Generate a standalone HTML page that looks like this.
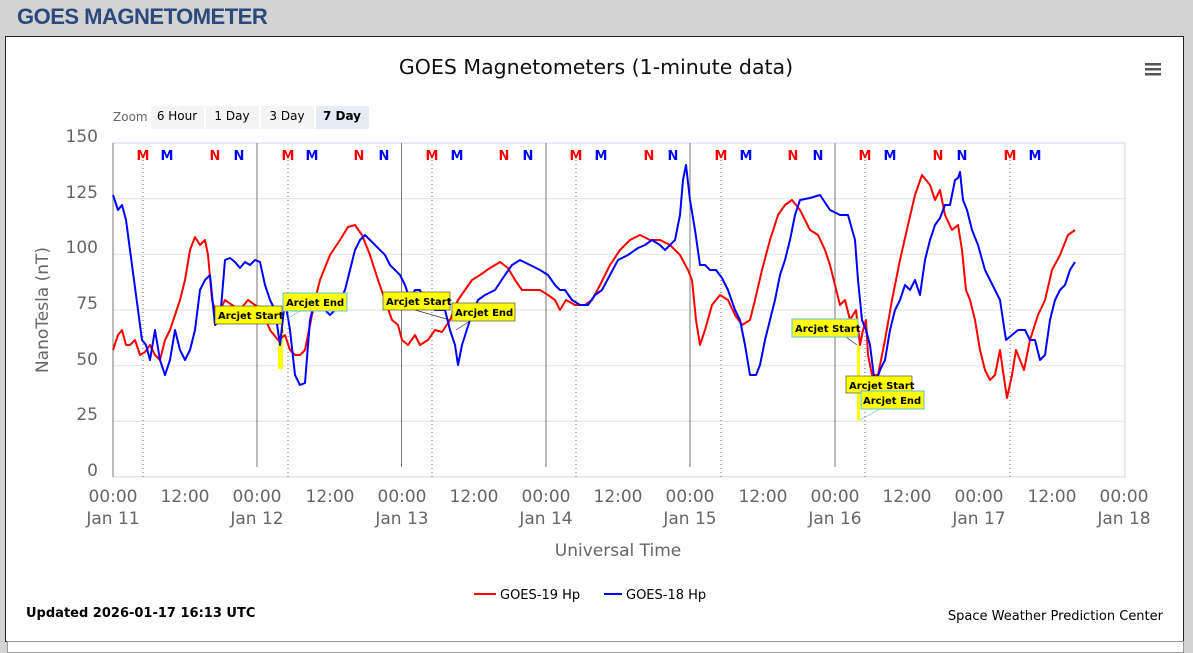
<!DOCTYPE html>
<html><head><meta charset="utf-8"><style>
body{margin:0;width:1193px;height:647px;background:#d3d3d3;overflow:hidden;font-family:"DejaVu Sans","Liberation Sans",sans-serif}
.h{position:absolute;left:17px;top:4px;font:bold 22px "Liberation Sans",sans-serif;color:#2a4a7e;letter-spacing:-0.5px}
.box{position:absolute;left:5px;top:36px;width:1177px;height:604px;background:#fff;border:1px solid #222}
.bot{position:absolute;left:7px;top:641px;width:1175px;height:10px;background:#fff;border:1px solid #999}
</style></head><body>
<div class="h">GOES MAGNETOMETER</div>
<div class="box"></div><div class="bot"></div>
<svg width="1193" height="647" style="position:absolute;left:0;top:0" font-family="DejaVu Sans, Liberation Sans, sans-serif">
<text x="596" y="74" text-anchor="middle" font-size="20.5" fill="#111">GOES Magnetometers (1-minute data)</text>
<g fill="#555"><rect x="1145" y="63" width="16" height="2.5"/><rect x="1145" y="68" width="16" height="2.5"/><rect x="1145" y="73" width="16" height="2.5"/></g>
<text x="113" y="121" font-size="12" fill="#666">Zoom</text>
<rect x="151" y="106" width="53" height="23" fill="#f4f4f4"/><text x="177" y="120" text-anchor="middle" font-size="12">6 Hour</text>
<rect x="206" y="106" width="53" height="23" fill="#f4f4f4"/><text x="232" y="120" text-anchor="middle" font-size="12">1 Day</text>
<rect x="261" y="106" width="53" height="23" fill="#f4f4f4"/><text x="287" y="120" text-anchor="middle" font-size="12">3 Day</text>
<rect x="316" y="106" width="53" height="23" fill="#e6ebf5"/><text x="342" y="120" text-anchor="middle" font-size="12" font-weight="bold">7 Day</text>
<g stroke="#e0e0e0"><line x1="113" x2="1125" y1="421.3" y2="421.3"/><line x1="113" x2="1125" y1="365.7" y2="365.7"/><line x1="113" x2="1125" y1="310" y2="310"/><line x1="113" x2="1125" y1="254.3" y2="254.3"/><line x1="113" x2="1125" y1="198.7" y2="198.7"/></g>
<rect x="113" y="143" width="1012" height="334" fill="none" stroke="#ccd6eb"/>
<g font-size="17" fill="#666" text-anchor="end"><text x="98" y="142">150</text><text x="98" y="198">125</text><text x="98" y="253">100</text><text x="98" y="309">75</text><text x="98" y="365">50</text><text x="98" y="420">25</text><text x="98" y="476">0</text></g>
<text transform="translate(48,310) rotate(-90)" text-anchor="middle" font-size="17" fill="#666">NanoTesla (nT)</text>
<g stroke="#777"><line x1="257" x2="257" y1="143" y2="467"/><line x1="401.5" x2="401.5" y1="143" y2="467"/><line x1="546" x2="546" y1="143" y2="467"/><line x1="690" x2="690" y1="143" y2="467"/><line x1="835" x2="835" y1="143" y2="467"/><line x1="113" x2="113" y1="143" y2="477"/></g>
<g stroke="#666" stroke-dasharray="1,3"><line x1="143" x2="143" y1="160" y2="477"/><line x1="288" x2="288" y1="160" y2="477"/><line x1="432" x2="432" y1="160" y2="477"/><line x1="576" x2="576" y1="160" y2="477"/><line x1="721" x2="721" y1="160" y2="477"/><line x1="865" x2="865" y1="160" y2="477"/><line x1="1010" x2="1010" y1="160" y2="477"/></g>
<g font-size="13" font-weight="bold" text-anchor="middle">
<g fill="#f00"><text x="143" y="160">M</text><text x="215" y="160">N</text><text x="288" y="160">M</text><text x="359" y="160">N</text><text x="432" y="160">M</text><text x="504" y="160">N</text><text x="576" y="160">M</text><text x="649" y="160">N</text><text x="721" y="160">M</text><text x="793" y="160">N</text><text x="865" y="160">M</text><text x="938" y="160">N</text><text x="1010" y="160">M</text></g>
<g fill="#00f"><text x="167" y="160">M</text><text x="239" y="160">N</text><text x="312" y="160">M</text><text x="384" y="160">N</text><text x="457" y="160">M</text><text x="528" y="160">N</text><text x="601" y="160">M</text><text x="673" y="160">N</text><text x="746" y="160">M</text><text x="818" y="160">N</text><text x="890" y="160">M</text><text x="962" y="160">N</text><text x="1035" y="160">M</text></g></g>
<g font-size="17" fill="#666" text-anchor="middle">
<text x="113" y="502">00:00</text><text x="113" y="524">Jan 11</text><text x="185" y="502">12:00</text>
<text x="257" y="502">00:00</text><text x="257" y="524">Jan 12</text><text x="330" y="502">12:00</text>
<text x="402" y="502">00:00</text><text x="402" y="524">Jan 13</text><text x="474" y="502">12:00</text>
<text x="546" y="502">00:00</text><text x="546" y="524">Jan 14</text><text x="618" y="502">12:00</text>
<text x="690" y="502">00:00</text><text x="690" y="524">Jan 15</text><text x="763" y="502">12:00</text>
<text x="835" y="502">00:00</text><text x="835" y="524">Jan 16</text><text x="907" y="502">12:00</text>
<text x="979" y="502">00:00</text><text x="979" y="524">Jan 17</text><text x="1052" y="502">12:00</text>
<text x="1124" y="502">00:00</text><text x="1124" y="524">Jan 18</text>
<text x="618" y="556">Universal Time</text></g>
<g fill="#ff0"><rect x="278" y="333" width="5" height="36"/><rect x="857" y="345" width="3" height="75"/></g>
<polyline fill="none" stroke="#f00" stroke-width="2" stroke-linejoin="round" points="113,350 118,335 122,330 126,345 130,345 135,340 140,355 145,352 150,345 155,355 160,360 165,340 170,330 175,315 180,300 185,280 190,250 195,237 200,245 205,240 208,255 212,300 215,310 220,310 225,300 232,305 240,310 248,300 255,305 262,310 270,330 278,340 285,335 290,350 295,355 300,355 305,350 310,325 315,300 320,280 330,255 340,240 348,227 355,225 362,235 370,255 378,280 385,300 392,320 398,325 402,340 408,345 415,335 420,345 428,340 435,330 442,332 450,320 458,300 465,290 472,280 480,275 490,268 500,262 508,268 515,280 522,290 530,290 540,290 548,295 555,300 560,310 566,300 575,305 585,305 592,300 600,285 610,265 620,250 630,240 640,235 650,240 660,240 670,245 680,255 688,270 692,280 696,320 700,345 705,330 712,305 720,295 728,300 735,315 742,325 750,320 755,300 762,270 770,240 778,215 785,205 792,200 800,210 810,230 818,235 825,250 830,265 835,285 840,305 845,300 850,320 856,310 860,345 863,330 866,320 868,355 872,375 878,375 885,340 892,300 900,260 908,225 915,195 922,175 930,185 935,200 940,190 945,215 952,230 958,225 962,250 966,290 970,300 975,320 980,350 985,370 990,380 995,375 1000,350 1004,378 1007,398 1012,375 1016,350 1020,360 1024,370 1030,340 1038,315 1045,300 1052,270 1060,255 1068,235 1075,230"/>
<polyline fill="none" stroke="#00f" stroke-width="2" stroke-linejoin="round" points="113,195 118,210 122,205 126,220 130,250 134,280 138,310 142,340 146,345 150,360 155,330 160,360 165,375 170,360 175,330 180,350 185,360 190,350 195,330 200,290 205,280 210,275 215,325 220,320 225,260 230,258 235,262 240,268 245,262 250,265 255,260 260,262 265,285 270,300 275,310 280,345 285,300 290,330 295,375 300,385 305,383 310,320 315,300 320,305 325,310 330,315 335,310 340,300 345,290 350,270 355,250 360,240 365,235 370,240 375,245 380,250 385,255 390,265 395,270 400,275 405,285 410,300 415,290 420,290 425,305 430,305 435,310 440,310 445,310 450,330 455,345 458,365 462,345 470,320 478,300 485,295 495,290 505,275 512,265 520,260 530,265 540,270 548,275 555,285 560,290 565,290 572,300 580,305 588,305 595,295 602,290 610,275 618,260 628,255 638,248 645,245 652,240 660,245 665,250 670,245 675,240 680,215 683,180 686,165 690,200 695,230 700,265 705,265 710,270 716,270 722,278 728,290 735,310 740,320 745,345 750,375 756,375 760,365 765,340 770,320 775,300 780,275 785,260 790,240 795,215 800,200 810,198 820,195 830,210 840,215 848,215 855,240 858,280 862,320 866,330 870,345 875,385 880,370 885,360 890,330 895,310 900,300 905,285 910,290 915,280 920,295 925,260 930,240 935,225 940,218 945,205 950,205 955,180 958,178 960,172 963,200 967,210 972,230 978,245 985,270 990,280 995,290 1000,300 1006,340 1012,335 1018,330 1025,330 1030,340 1035,340 1040,360 1045,355 1050,320 1055,300 1060,290 1065,285 1070,270 1075,262"/>
<g stroke="#333" stroke-width="0.7"><line x1="282" y1="324" x2="283" y2="333"/><line x1="415" y1="310" x2="450" y2="320"/><line x1="470" y1="321" x2="456" y2="330"/><line x1="846" y1="337" x2="857" y2="345"/></g>
<g stroke="#5bc0de" stroke-width="0.7"><line x1="300" y1="311" x2="285" y2="320"/><line x1="880" y1="409" x2="860" y2="420"/></g>
<g font-size="10" font-weight="bold" fill="#000">
<rect x="215" y="306" width="67" height="18" fill="#ff0" stroke="#333" stroke-width="0.6"/><text x="218" y="319">Arcjet Start</text>
<rect x="283" y="293" width="64" height="18" fill="#ff0" stroke="#5bc0de"/><text x="286" y="306">Arcjet End</text>
<rect x="383" y="292" width="67" height="18" fill="#ff0" stroke="#333" stroke-width="0.6"/><text x="386" y="305">Arcjet Start</text>
<rect x="452" y="303" width="63" height="18" fill="#ff0" stroke="#333" stroke-width="0.6"/><text x="455" y="316">Arcjet End</text>
<rect x="792" y="319" width="66" height="18" fill="#ff0" stroke="#5bc0de"/><text x="795" y="332">Arcjet Start</text>
<rect x="846" y="376" width="66" height="17" fill="#ff0" stroke="#333" stroke-width="0.6"/><text x="849" y="389">Arcjet Start</text>
<rect x="861" y="391" width="63" height="18" fill="#ff0" stroke="#5bc0de"/><text x="863" y="404">Arcjet End</text></g>
<line x1="474" x2="496" y1="594" y2="594" stroke="#f00" stroke-width="2"/><text x="500" y="599" font-size="13">GOES-19 Hp</text>
<line x1="604" x2="622" y1="594" y2="594" stroke="#00f" stroke-width="2"/><text x="626" y="599" font-size="13">GOES-18 Hp</text>
<text x="26" y="617" font-size="13" font-weight="bold">Updated 2026-01-17 16:13 UTC</text>
<text x="1163" y="620" font-size="13" text-anchor="end">Space Weather Prediction Center</text>
</svg>
</body></html>
